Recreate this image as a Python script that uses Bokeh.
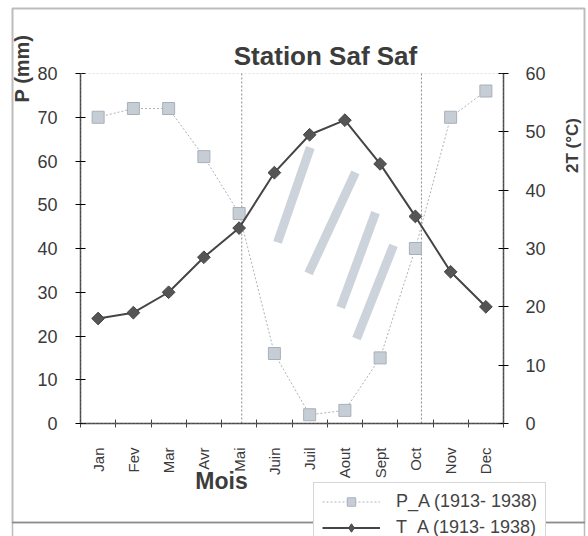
import numpy as np
from bokeh.plotting import figure
from bokeh.models import (Range1d, LinearAxis, FixedTicker, Label, Legend,
                          LegendItem, BoxAnnotation)
from bokeh.embed import file_html
from bokeh.resources import INLINE

# ---------------- data ----------------
months = ["Jan", "Fev", "Mar", "Avr", "Mai", "Juin", "Juil", "Aout",
          "Sept", "Oct", "Nov", "Dec"]
precip_mm = [70, 72, 72, 61, 48, 16, 2, 3, 15, 40, 70, 76]
temp_2t = [18, 19, 22.5, 28.5, 33.5, 43, 49.5, 52, 44.5, 35.5, 26, 20]
p_ticks = [0, 10, 20, 30, 40, 50, 60, 70, 80]
t_ticks = [0, 10, 20, 30, 40, 50, 60]
legend_labels = ["P_A (1913- 1938)", "T_A (1913- 1938)"]
title_text = "Station Saf Saf"
x_title = "Mois"
yl_title = "P (mm)"
yr_title = "2T (\u00b0C)"

# dry-season hatch strips (month-axis position, P-axis value)
strip_top_x = [6.52, 7.80, 8.37, 8.88]
strip_top_p = [63.1, 57.4, 48.2, 40.7]
strip_bot_x = [5.59, 6.47, 7.38, 7.83]
strip_bot_p = [41.4, 34.3, 26.5, 19.4]

# ---------------- layout (pixels) ----------------
W, H = 588, 536
FL, FR, FT, FB = 80, 503, 73, 423       # plot area edges on the canvas

N = len(months)
P_MAX, T_MAX = p_ticks[-1], t_ticks[-1]
xs = [i + 0.5 for i in range(N)]

kx = (FR - FL) / N
kp = (FB - FT) / P_MAX
kt = (FB - FT) / T_MAX
x_rng = Range1d(-FL / kx, N + (W - FR) / kx)
p_rng = Range1d(-(H - FB) / kp, P_MAX + FT / kp)
t_rng = Range1d(-(H - FB) / kt, T_MAX + FT / kt)

# dry period limits: where the P curve crosses the 2T curve on the chart
d = np.array(precip_mm) / P_MAX - np.array(temp_2t) / T_MAX
limits = []
for i in range(N - 1):
    if d[i] * d[i + 1] < 0:
        limits.append(xs[i] + d[i] / (d[i] - d[i + 1]))

FONT = "Liberation Sans"
TXT = "#3a3a3a"

p = figure(width=W, height=H, output_backend="svg", toolbar_location=None,
           title=None, x_range=x_rng, y_range=p_rng, min_border=0,
           x_axis_type=None, y_axis_type=None)
p.extra_y_ranges = {"t": t_rng}
p.grid.visible = False
p.outline_line_color = None
p.background_fill_color = "white"
p.border_fill_color = "white"

# plot-area border (dotted)
p.add_layout(BoxAnnotation(left=0, right=N, bottom=0, top=P_MAX,
                           fill_color=None, line_color="#9a9a9a",
                           line_dash="2 2", line_width=1))

# x axis
xa = LinearAxis(fixed_location=0, bounds=(0, N),
                ticker=FixedTicker(ticks=xs, minor_ticks=list(range(N + 1))))
xa.major_label_overrides = {x: m for x, m in zip(xs, months)}
xa.major_label_orientation = np.pi / 2
xa.major_tick_in = 0
xa.major_tick_out = 0
xa.minor_tick_in = 4
xa.minor_tick_out = 4
xa.major_label_standoff = 20
xa.major_label_text_font = FONT
xa.major_label_text_font_size = "15px"
xa.major_label_text_color = TXT
xa.axis_line_color = "#444"
xa.axis_line_width = 1.5
xa.minor_tick_line_color = "#444"
p.add_layout(xa, "below")

ya = LinearAxis(fixed_location=0, bounds=(0, P_MAX),
                ticker=FixedTicker(ticks=p_ticks))
ya.major_tick_in = 5
ya.major_tick_out = 5
ya.minor_tick_line_color = None
ya.major_label_standoff = 18
ya.major_label_text_font = FONT
ya.major_label_text_font_size = "18px"
ya.major_label_text_color = TXT
ya.axis_line_color = "#444"
ya.axis_line_width = 1.5
p.add_layout(ya, "left")

ra = LinearAxis(y_range_name="t", fixed_location=N, bounds=(0, T_MAX),
                ticker=FixedTicker(ticks=t_ticks))
ra.major_tick_in = 5
ra.major_tick_out = 5
ra.minor_tick_line_color = None
ra.major_label_standoff = 17
ra.major_label_text_font = FONT
ra.major_label_text_font_size = "18px"
ra.major_label_text_color = TXT
ra.axis_line_color = "#444"
ra.axis_line_width = 1.5
p.add_layout(ra, "right")

# dry period vertical limits
p.segment(x0=limits, y0=[0] * len(limits), x1=limits,
          y1=[P_MAX] * len(limits), line_color="#8a8a8a",
          line_dash="2 2", line_width=1)

# hatch strips
p.segment(x0=strip_bot_x, y0=strip_bot_p, x1=strip_top_x, y1=strip_top_p,
          line_color="#ccd3da", line_width=9, line_cap="butt")

# precipitation
pl = p.line(xs, precip_mm, line_color="#aab3bc", line_dash="2 2", line_width=1)
ps = p.scatter(xs, precip_mm, marker="square", size=12, fill_color="#c6cdd5",
               line_color="#a7b0ba", line_width=1)

# temperature
tl = p.line(xs, temp_2t, line_color="#454545", line_width=2, y_range_name="t")
ts = p.scatter(xs, temp_2t, marker="square", size=9, angle=np.pi / 4,
               fill_color="#555555", line_color="#444444", y_range_name="t")
# legend swatch for the temperature marker (not drawn on the chart)
ts_key = p.scatter(x=[float("nan")], y=[float("nan")], marker="diamond",
                   size=16, fill_color="#555555", line_color="#444444")

legend = Legend(items=[LegendItem(label=legend_labels[0], renderers=[pl, ps]),
                       LegendItem(label=legend_labels[1], renderers=[tl, ts_key])],
                location=(313, -11), orientation="vertical",
                label_text_font=FONT, label_text_font_size="18px",
                label_text_color="#444", glyph_width=58, glyph_height=21,
                label_height=21, label_standoff=16, spacing=5, padding=8,
                margin=0, border_line_color="#b0b0b0",
                background_fill_color="white", background_fill_alpha=1)
p.add_layout(legend, "center")

# outer frame
p.add_layout(BoxAnnotation(left=12, right=584, top=8, bottom=522,
                           left_units="canvas", right_units="canvas",
                           top_units="canvas", bottom_units="canvas",
                           fill_color=None, line_color="#222", line_width=2))
p.add_layout(BoxAnnotation(left=12, right=584, top=522, bottom=560,
                           left_units="canvas", right_units="canvas",
                           top_units="canvas", bottom_units="canvas",
                           fill_color=None, line_color="#222", line_width=1.5))

# texts
p.add_layout(Label(x=325, y=55, x_units="canvas", y_units="canvas",
                   text=title_text, text_align="center",
                   text_baseline="alphabetic", text_font=FONT,
                   text_font_style="bold", text_font_size="26px",
                   text_color="#3c3c3c"))
p.add_layout(Label(x=221, y=480, x_units="canvas", y_units="canvas",
                   text=x_title, text_align="center",
                   text_baseline="alphabetic", text_font=FONT,
                   text_font_style="bold", text_font_size="23px",
                   text_color="#3c3c3c"))
p.add_layout(Label(x=21, y=68, x_units="canvas", y_units="canvas",
                   text=yl_title, text_align="center", angle=np.pi / 2,
                   text_baseline="alphabetic", text_font=FONT,
                   text_font_style="bold", text_font_size="20px",
                   text_color="#3c3c3c"))
p.add_layout(Label(x=572, y=145, x_units="canvas", y_units="canvas",
                   text=yr_title, text_align="center", angle=np.pi / 2,
                   text_baseline="alphabetic", text_font=FONT,
                   text_font_style="bold", text_font_size="17px",
                   text_color="#3c3c3c"))

open("out.html", "w").write(file_html(p, INLINE))
